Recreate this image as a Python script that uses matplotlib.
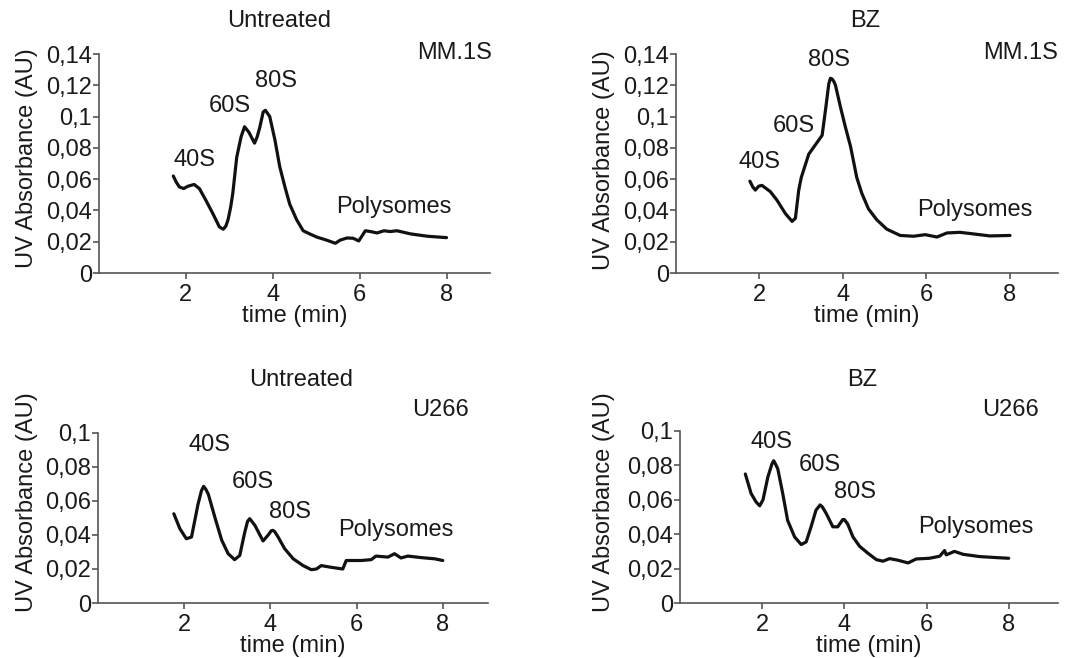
import matplotlib
matplotlib.use("Agg")
import matplotlib.pyplot as plt

plt.rcParams['font.family'] = ['Liberation Sans', 'DejaVu Sans']

W, H = 1078, 658

# ---- data (time in min, UV absorbance in AU) ----
mm_untreated_t = [1.71, 1.78, 1.85, 1.95, 2.05, 2.19, 2.31, 2.46, 2.62, 2.77, 2.81, 2.86, 2.92, 2.97, 3.03, 3.08,
                  3.17, 3.27, 3.35, 3.45, 3.58, 3.64, 3.70, 3.78, 3.83, 3.88, 3.93, 4.05, 4.16, 4.28, 4.39, 4.55,
                  4.70, 4.85, 5.01, 5.24, 5.44, 5.55, 5.71, 5.85, 5.98, 6.13, 6.25, 6.40, 6.56, 6.70, 6.86, 7.17,
                  7.56, 8.0]
mm_untreated_v = [0.062, 0.058, 0.055, 0.054, 0.0555, 0.0566, 0.054, 0.0465, 0.038, 0.0295, 0.0288, 0.028, 0.030,
                  0.034, 0.042, 0.051, 0.074, 0.087, 0.0935, 0.090, 0.083, 0.087, 0.093, 0.103, 0.104, 0.102,
                  0.100, 0.085, 0.068, 0.055, 0.044, 0.034, 0.027, 0.025, 0.023, 0.021, 0.019, 0.021, 0.0224,
                  0.0222, 0.0205, 0.027, 0.0265, 0.0256, 0.027, 0.0265, 0.027, 0.025, 0.0235, 0.0226]

mm_bz_t = [1.77, 1.84, 1.90, 1.98, 2.06, 2.16, 2.26, 2.42, 2.62, 2.78, 2.86, 2.94, 3.00, 3.06, 3.18, 3.34, 3.50,
           3.58, 3.66, 3.70, 3.74, 3.78, 3.82, 3.94, 4.06, 4.18, 4.33, 4.45, 4.61, 4.81, 5.05, 5.37, 5.69, 5.97,
           6.25, 6.49, 6.80, 7.12, 7.52, 8.0]
mm_bz_v = [0.0587, 0.055, 0.053, 0.0555, 0.056, 0.054, 0.052, 0.0465, 0.038, 0.033, 0.035, 0.053, 0.061, 0.066,
           0.076, 0.082, 0.088, 0.104, 0.121, 0.1245, 0.124, 0.1225, 0.120, 0.106, 0.093, 0.081, 0.061, 0.051,
           0.041, 0.034, 0.028, 0.024, 0.0235, 0.0245, 0.023, 0.0256, 0.026, 0.025, 0.0237, 0.024]

u_untreated_t = [1.76, 1.90, 2.05, 2.17, 2.32, 2.40, 2.45, 2.50, 2.56, 2.71, 2.87, 3.02, 3.17, 3.29, 3.40, 3.47,
                 3.52, 3.57, 3.64, 3.83, 3.95, 4.02, 4.06, 4.10, 4.18, 4.33, 4.53, 4.76, 4.95, 5.07, 5.18, 5.41,
                 5.68, 5.76, 6.11, 6.34, 6.45, 6.73, 6.88, 7.03, 7.19, 7.50, 7.81, 8.0]
u_untreated_v = [0.0525, 0.0437, 0.0378, 0.0388, 0.058, 0.066, 0.0686, 0.067, 0.064, 0.0506, 0.037, 0.029, 0.0255,
                 0.028, 0.041, 0.048, 0.0496, 0.048, 0.0457, 0.0365, 0.040, 0.0425, 0.0427, 0.042, 0.0388, 0.032,
                 0.026, 0.022, 0.0196, 0.020, 0.022, 0.021, 0.020, 0.025, 0.025, 0.0255, 0.0276, 0.027, 0.029,
                 0.0265, 0.0276, 0.0267, 0.026, 0.025]

u_bz_t = [1.59, 1.73, 1.85, 1.94, 2.02, 2.14, 2.24, 2.28, 2.32, 2.38, 2.50, 2.62, 2.79, 2.95, 3.07, 3.19, 3.31,
          3.41, 3.46, 3.56, 3.72, 3.84, 3.96, 4.00, 4.08, 4.21, 4.37, 4.57, 4.78, 4.94, 5.10, 5.30, 5.55, 5.75,
          6.07, 6.32, 6.44, 6.48, 6.68, 6.89, 7.29, 7.70, 8.0]
u_bz_v = [0.075, 0.0637, 0.0588, 0.0565, 0.060, 0.0734, 0.081, 0.0827, 0.081, 0.078, 0.0637, 0.048, 0.0384,
          0.034, 0.0355, 0.0443, 0.054, 0.057, 0.056, 0.052, 0.0443, 0.0443, 0.0485, 0.0485, 0.046, 0.0384,
          0.033, 0.029, 0.0252, 0.0243, 0.0258, 0.0249, 0.0233, 0.0256, 0.026, 0.0272, 0.0305, 0.028, 0.030,
          0.0283, 0.027, 0.0264, 0.026]

yticks_top = [0, 0.02, 0.04, 0.06, 0.08, 0.1, 0.12, 0.14]
ylabels_top = ['0', '0,02', '0,04', '0,06', '0,08', '0,1', '0,12', '0,14']
yticks_bot = [0, 0.02, 0.04, 0.06, 0.08, 0.1]
ylabels_bot = ['0', '0,02', '0,04', '0,06', '0,08', '0,1']
xticks = [2, 4, 6, 8]
xlabels = ['2', '4', '6', '8']

panels = [
    dict(t=mm_untreated_t, v=mm_untreated_v, title='Untreated', cell='MM.1S',
         box=(99, 54, 490, 273), xmax=9.0, ymax=0.14, yt=yticks_top, yl=ylabels_top,
         title_xy=(279, 21), cell_xy=(492, 53), cell_ha='right', ylab_xy=(38, 158),
         peaks=[('40S', 2.19, 0.072), ('60S', 3.0, 0.1067), ('80S', 4.07, 0.123), ('Polysomes', 6.79, 0.042)]),
    dict(t=mm_bz_t, v=mm_bz_v, title='BZ', cell='MM.1S',
         box=(676, 54, 1058, 273), xmax=9.15, ymax=0.14, yt=yticks_top, yl=ylabels_top,
         title_xy=(865, 21), cell_xy=(1058, 53), cell_ha='right', ylab_xy=(615, 160),
         peaks=[('40S', 2.01, 0.071), ('60S', 2.82, 0.094), ('80S', 3.66, 0.136), ('Polysomes', 7.16, 0.040)]),
    dict(t=u_untreated_t, v=u_untreated_v, title='Untreated', cell='U266',
         box=(98, 433, 488, 603), xmax=9.05, ymax=0.1, yt=yticks_bot, yl=ylabels_bot,
         title_xy=(301, 380), cell_xy=(440, 410), cell_ha='center', ylab_xy=(38, 502),
         peaks=[('40S', 2.59, 0.0927), ('60S', 3.60, 0.0712), ('80S', 4.45, 0.0535), ('Polysomes', 6.90, 0.0427)]),
    dict(t=u_bz_t, v=u_bz_v, title='BZ', cell='U266',
         box=(680, 431, 1058, 603), xmax=9.2, ymax=0.1, yt=yticks_bot, yl=ylabels_bot,
         title_xy=(862, 380), cell_xy=(1011, 410), cell_ha='center', ylab_xy=(615, 502),
         peaks=[('40S', 2.22, 0.0938), ('60S', 3.40, 0.080), ('80S', 4.27, 0.0647), ('Polysomes', 7.21, 0.0439)]),
]

FS = 17
TC = '#1a1a1a'
fig = plt.figure(figsize=(W / 100, H / 100), dpi=100)

for p in panels:
    x0, y0, x1, y1 = p['box']
    ax = fig.add_axes([x0 / W, 1 - y1 / H, (x1 - x0) / W, (y1 - y0) / H])
    ax.plot(p['t'], p['v'], color='#111111', lw=2.3, solid_joinstyle='round', solid_capstyle='round')
    ax.set_xlim(0, p['xmax'])
    ax.set_ylim(0, p['ymax'])
    ax.set_xticks(xticks)
    ax.set_xticklabels(xlabels)
    ax.set_yticks(p['yt'])
    ax.set_yticklabels(p['yl'])
    for s in ['top', 'right']:
        ax.spines[s].set_visible(False)
    for s in ['left', 'bottom']:
        ax.spines[s].set_color('#555555')
        ax.spines[s].set_linewidth(1.2)
    ax.tick_params(axis='both', direction='out', length=4, width=1.2, color='#555555',
                   labelsize=FS, labelcolor=TC)
    ax.tick_params(axis='y', pad=1)
    ax.tick_params(axis='x', pad=4)
    ax.set_xlabel('time (min)', fontsize=FS, color=TC, labelpad=-1)
    ax.set_ylabel('UV Absorbance (AU)', fontsize=FS, color=TC)
    lx, ly = p['ylab_xy']
    ax.yaxis.set_label_coords(lx / W, 1 - ly / H, transform=fig.transFigure)
    for name, tx, vy in p['peaks']:
        ax.text(tx, vy, name, fontsize=FS, color=TC, ha='center', va='center')
    tx, ty = p['title_xy']
    fig.text(tx / W, 1 - ty / H, p['title'], fontsize=FS, color=TC, ha='center', va='center')
    cx, cy = p['cell_xy']
    fig.text(cx / W, 1 - cy / H, p['cell'], fontsize=FS, color=TC, ha=p['cell_ha'], va='center')

fig.savefig('out.png', dpi=100)
